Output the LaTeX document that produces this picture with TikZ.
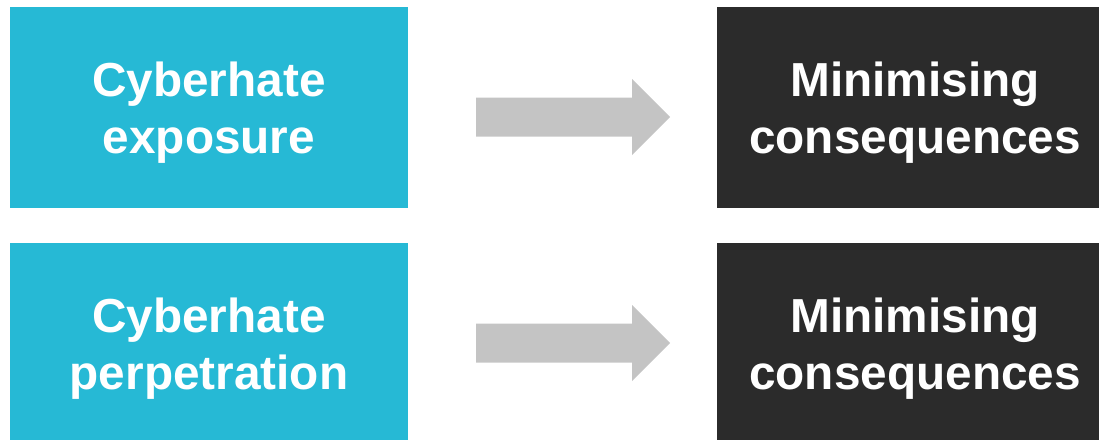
\documentclass[tikz,border=0pt]{standalone}
\usepackage{fontspec}
\setmainfont{Liberation Sans}
\definecolor{cyanbox}{HTML}{26B9D5}
\definecolor{darkbox}{HTML}{2B2B2B}
\definecolor{arrowgrey}{HTML}{C4C4C4}
\begin{document}
\begin{tikzpicture}[x=0.75pt,y=-0.75pt,
  boxtext/.style={text=white,font=\fontsize{35.8}{42.8}\selectfont\bfseries,align=center,inner sep=0pt},
  causebox/.style={fill=cyanbox,minimum width=298.5pt,inner sep=0pt},
  effectbox/.style={fill=darkbox,minimum width=286.5pt,inner sep=0pt},
  blockarrow/.style={fill=arrowgrey}]
\useasboundingbox (0,0) rectangle (1099,440);
% cause boxes (left)
\node[causebox,minimum height=150.75pt] (c1) at (209,107.5) {};
\node[causebox,minimum height=147.75pt] (c2) at (209,341.5) {};
% effect boxes (right)
\node[effectbox,minimum height=150.75pt] (e1) at (908,107.5) {};
\node[effectbox,minimum height=147.75pt] (e2) at (908,341.5) {};
% box labels
\node[boxtext] (c1t) at ([shift={(0,5)}]c1.center) {Cyberhate\\exposure};
\node[boxtext] (c2t) at ([shift={(0,7)}]c2.center) {Cyberhate\\perpetration};
\node[boxtext] (e1t) at ([shift={(7,5)}]e1.center) {Minimising\\consequences};
\node[boxtext] (e2t) at ([shift={(7,7)}]e2.center) {Minimising\\consequences};
% block arrows between the columns
\foreach \n/\yc in {a1/117,a2/343}{
  \coordinate (\n) at (573,\yc);
  \fill[blockarrow] ([shift={(-97,-19.5)}]\n) -- ([shift={(59,-19.5)}]\n)
    -- ([shift={(59,-38)}]\n) -- ([shift={(97,0)}]\n) -- ([shift={(59,38)}]\n)
    -- ([shift={(59,19.5)}]\n) -- ([shift={(-97,19.5)}]\n) -- cycle;
}
\end{tikzpicture}
\end{document}
